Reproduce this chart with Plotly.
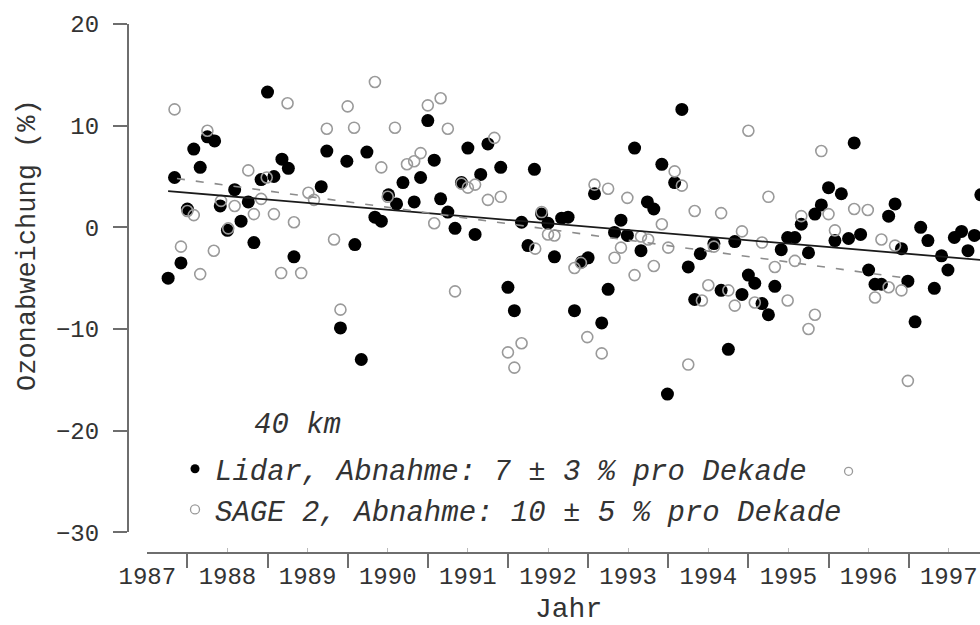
import plotly.graph_objects as go

# ---------------- data ----------------
lidar_year = [1987.76, 1987.84, 1987.92, 1988.00, 1988.08, 1988.16, 1988.25, 1988.34, 1988.41, 1988.50,
              1988.59, 1988.67, 1988.76, 1988.83, 1988.92, 1989.00, 1989.08, 1989.18, 1989.26, 1989.33,
              1989.67, 1989.74, 1989.91, 1989.99, 1990.09, 1990.17, 1990.24, 1990.34, 1990.42, 1990.51,
              1990.61, 1990.69, 1990.83, 1990.91, 1991.00, 1991.08, 1991.16, 1991.25, 1991.34, 1991.42,
              1991.50, 1991.59, 1991.66, 1991.75, 1991.91, 1992.00, 1992.08, 1992.17, 1992.25, 1992.33,
              1992.42, 1992.50, 1992.58, 1992.67, 1992.75, 1992.83, 1992.92, 1993.00, 1993.08, 1993.17,
              1993.25, 1993.33, 1993.41, 1993.49, 1993.58, 1993.66, 1993.74, 1993.82, 1993.92, 1993.99,
              1994.08, 1994.17, 1994.25, 1994.33, 1994.40, 1994.57, 1994.66, 1994.75, 1994.83, 1994.92,
              1995.00, 1995.08, 1995.17, 1995.25, 1995.33, 1995.41, 1995.49, 1995.58, 1995.66, 1995.75,
              1995.83, 1995.91, 1996.00, 1996.08, 1996.16, 1996.25, 1996.32, 1996.40, 1996.50, 1996.58,
              1996.66, 1996.75, 1996.83, 1996.91, 1996.99, 1997.08, 1997.15, 1997.24, 1997.32, 1997.41,
              1997.49, 1997.57, 1997.66, 1997.74, 1997.82, 1997.90]
lidar_val = [-5.0, 4.9, -3.5, 1.8, 7.7, 5.9, 8.9, 8.5, 2.1, -0.3,
             3.7, 0.6, 2.5, -1.5, 4.7, 13.3, 5.0, 6.7, 5.8, -2.9,
             4.0, 7.5, -9.9, 6.5, -1.7, -13.0, 7.4, 1.0, 0.6, 3.2,
             2.3, 4.4, 2.5, 4.9, 10.5, 6.6, 2.8, 1.5, -0.1, 4.4,
             7.8, -0.7, 5.2, 8.2, 5.9, -5.9, -8.2, 0.5, -1.8, 5.7,
             1.3, 0.4, -2.9, 0.9, 1.0, -8.2, -3.4, -3.0, 3.3, -9.4,
             -6.1, -0.5, 0.7, -0.8, 7.8, -2.3, 2.5, 1.8, 6.2, -16.4,
             4.4, 11.6, -3.9, -7.1, -2.6, -1.6, -6.2, -12.0, -1.4, -6.6,
             -4.7, -5.5, -7.5, -8.6, -5.8, -2.2, -1.0, -1.0, 0.3, -2.5,
             1.3, 2.2, 3.9, -1.3, 3.3, -1.1, 8.3, -0.7, -4.2, -5.6,
             -5.6, 1.1, 2.3, -2.1, -5.3, -9.3, 0.0, -1.3, -6.0, -2.8,
             -4.2, -1.0, -0.4, -2.3, -0.8, 3.2]

sage_year = [1987.84, 1987.92, 1988.00, 1988.08, 1988.16, 1988.25, 1988.33, 1988.42, 1988.51, 1988.59,
             1988.76, 1988.83, 1988.92, 1988.99, 1989.08, 1989.17, 1989.25, 1989.33, 1989.42, 1989.51,
             1989.58, 1989.74, 1989.83, 1989.91, 1990.00, 1990.08, 1990.34, 1990.42, 1990.50, 1990.59,
             1990.74, 1990.83, 1990.91, 1991.00, 1991.08, 1991.16, 1991.25, 1991.34, 1991.42, 1991.50,
             1991.59, 1991.75, 1991.83, 1991.91, 1992.00, 1992.08, 1992.17, 1992.34, 1992.42, 1992.50,
             1992.58, 1992.83, 1992.91, 1992.99, 1993.08, 1993.17, 1993.25, 1993.33, 1993.41, 1993.49,
             1993.58, 1993.66, 1993.75, 1993.82, 1993.92, 1994.00, 1994.08, 1994.17, 1994.25, 1994.33,
             1994.42, 1994.50, 1994.57, 1994.66, 1994.75, 1994.83, 1994.92, 1995.00, 1995.08, 1995.17,
             1995.25, 1995.33, 1995.49, 1995.58, 1995.66, 1995.75, 1995.83, 1995.91, 1996.00, 1996.08,
             1996.32, 1996.49, 1996.58, 1996.66, 1996.75, 1996.83, 1996.91, 1996.99]
sage_val = [11.6, -1.9, 1.6, 1.2, -4.6, 9.5, -2.3, 2.6, -0.1, 2.1,
            5.6, 1.3, 2.8, 4.9, 1.3, -4.5, 12.2, 0.5, -4.5, 3.4,
            2.7, 9.7, -1.2, -8.1, 11.9, 9.8, 14.3, 5.9, 3.0, 9.8,
            6.2, 6.5, 7.3, 12.0, 0.4, 12.7, 9.7, -6.3, 4.3, 3.9,
            4.2, 2.7, 8.8, 3.0, -12.3, -13.8, -11.4, -2.1, 1.5, -0.7,
            -0.8, -4.0, -3.5, -10.8, 4.2, -12.4, 3.8, -3.0, -2.0, 2.9,
            -4.7, -0.9, -1.2, -3.8, 0.3, -2.0, 5.5, 4.1, -13.5, 1.6,
            -7.2, -5.7, -1.9, 1.4, -6.2, -7.7, -0.4, 9.5, -7.4, -1.5,
            3.0, -3.9, -7.2, -3.3, 1.1, -10.0, -8.6, 7.5, 1.3, -0.3,
            1.8, 1.7, -6.9, -1.2, -5.9, -1.8, -6.2, -15.1]

extra_year = [1996.25]
extra_val = [-24.0]

lidar_trend_year = [1987.76, 1997.91]
lidar_trend_val = [3.57, -3.22]
sage_trend_year = [1987.87, 1996.97]
sage_trend_val = [4.8, -5.0]

year_labels = [str(y) for y in range(1987, 1998)]
label_pos = [y + 0.5 for y in range(1987, 1998)]
y_ticks = [-30, -20, -10, 0, 10, 20]

lidar_name = "Lidar, Abnahme: 7 \u00b1 3 % pro Dekade"
sage_name = "SAGE 2, Abnahme: 10 \u00b1 5 % pro Dekade"

FONT = "Liberation Mono, Courier New, monospace"
W, H = 980, 625


def px(x):  # page pixel -> paper fraction (x)
    return x / W


def py(y):  # page pixel -> paper fraction (y)
    return 1 - y / H


BLACK = "#000000"
GREY = "#9a9a9a"
AXIS = "#6e6e6e"
TEXT = "#333333"

fig = go.Figure()

fig.add_trace(go.Scatter(
    x=lidar_year, y=lidar_val, mode="markers", name=lidar_name,
    legendgroup="lidar", showlegend=False,
    marker=dict(symbol="circle", size=13, color=BLACK, line=dict(width=0))))
fig.add_trace(go.Scatter(
    x=sage_year, y=sage_val, mode="markers", name=sage_name,
    legendgroup="sage", showlegend=False,
    marker=dict(symbol="circle-open", size=11, color=GREY, line=dict(width=1.6, color=GREY))))
fig.add_trace(go.Scatter(
    x=extra_year, y=extra_val, mode="markers", showlegend=False, hoverinfo="skip",
    marker=dict(symbol="circle-open", size=8, color=GREY, line=dict(width=1.3, color=GREY))))
fig.add_trace(go.Scatter(
    x=lidar_trend_year, y=lidar_trend_val, mode="lines", showlegend=False,
    line=dict(color="#1a1a1a", width=1.8)))
fig.add_trace(go.Scatter(
    x=sage_trend_year, y=sage_trend_val, mode="lines", showlegend=False,
    line=dict(color="#8c8c8c", width=1.6, dash="8px,11px")))

# legend proxies (smaller symbols, as in the reference legend)
fig.add_trace(go.Scatter(
    x=[None], y=[None], mode="markers", name=lidar_name, legendgroup="lidar",
    marker=dict(symbol="circle", size=9, color=BLACK)))
fig.add_trace(go.Scatter(
    x=[None], y=[None], mode="markers", name=sage_name, legendgroup="sage",
    marker=dict(symbol="circle-open", size=9, color=GREY, line=dict(width=1.3, color=GREY))))

fig.update_layout(
    width=W, height=H,
    margin=dict(l=0, r=0, t=0, b=0, autoexpand=False),
    paper_bgcolor="white", plot_bgcolor="white",
    font=dict(family=FONT, color=TEXT),
    xaxis=dict(
        domain=[px(147.3), 1.0], range=[1987.5, 1997.89],
        anchor="free", position=py(552.7),
        showline=True, linecolor=AXIS, linewidth=1.6,
        showgrid=False, zeroline=False, automargin=False,
        tickmode="array", tickvals=label_pos, ticktext=year_labels,
        ticks="inside", ticklen=4, tickwidth=1, tickcolor="#bbbbbb",
        ticklabelstandoff=2,
        tickfont=dict(family=FONT, size=24, color=TEXT),
        minor=dict(tickmode="linear", tick0=1988, dtick=1, ticks="outside",
                   ticklen=14, tickwidth=1.6, tickcolor=AXIS, showgrid=False),
    ),
    yaxis=dict(
        domain=[py(532.3), py(24.0)], range=[-30, 20],
        anchor="free", position=px(127.7),
        showline=True, linecolor=AXIS, linewidth=1.6,
        showgrid=False, zeroline=False, automargin=False,
        tickmode="array", tickvals=y_ticks,
        ticks="outside", ticklen=14, tickwidth=1.6, tickcolor=AXIS,
        ticklabelstandoff=9,
        tickfont=dict(family=FONT, size=24, color=TEXT),
    ),
    legend=dict(
        x=px(175), xanchor="left", y=py(443.4), yanchor="top",
        bgcolor="rgba(0,0,0,0)", borderwidth=0,
        font=dict(family=FONT, size=29, color=TEXT, style="italic"),
        itemsizing="trace", tracegroupgap=0,
    ),
    showlegend=True,
    annotations=[
        dict(text="Ozonabweichung (%)", textangle=-90, xref="paper", yref="paper",
             x=px(28), y=py(245), xanchor="center", yanchor="middle", showarrow=False,
             font=dict(family=FONT, size=27, color=TEXT)),
        dict(text="Jahr", xref="paper", yref="paper",
             x=px(568), y=py(609.5), xanchor="center", yanchor="middle", showarrow=False,
             font=dict(family=FONT, size=28, color=TEXT)),
        dict(text="40 km", xref="paper", yref="paper",
             x=px(251.7), y=py(425), xanchor="left", yanchor="middle", showarrow=False,
             font=dict(family=FONT, size=29, color=TEXT, style="italic")),
    ],
)

# remove the default 8 px page margin so the 980x625 figure fills the window exactly
fig.write_html(
    "out.html",
    config={"displayModeBar": False},
    post_script="document.body.style.margin='0';document.body.style.overflow='hidden';",
)
